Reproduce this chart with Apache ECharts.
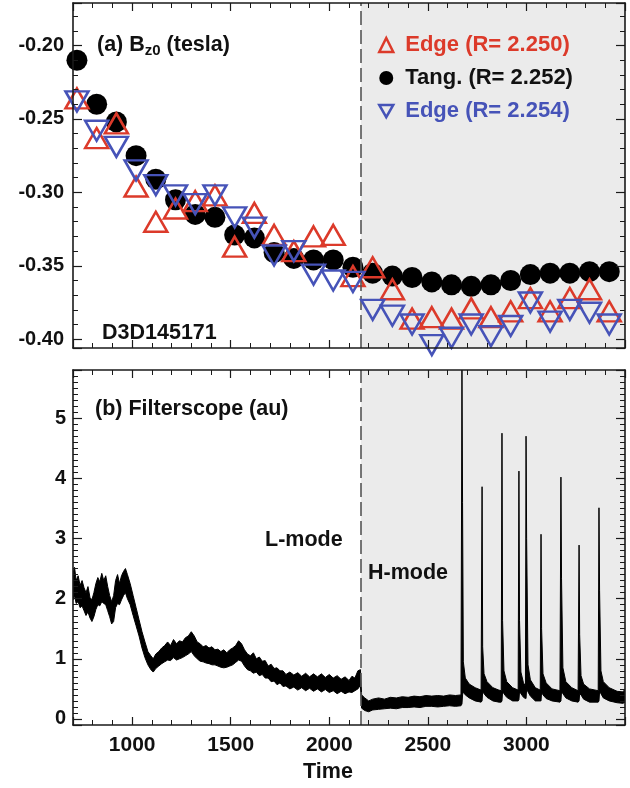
<!DOCTYPE html>
<html>
<head>
<meta charset="utf-8">
<script src="https://cdn.jsdelivr.net/npm/echarts@6/dist/echarts.min.js"></script>
<style>html,body{margin:0;padding:0;background:#fff}#c{width:630px;height:788px}</style>
</head>
<body>
<div id="c"></div>
<script>
// ---------- data ----------
const bzTime = [720, 820, 920, 1020, 1120, 1220, 1320, 1420, 1520, 1620, 1720, 1820, 1920, 2020,
                2120, 2220, 2320, 2420, 2520, 2620, 2720, 2820, 2920, 3020, 3120, 3220, 3320, 3420];
const bzTang = [-0.210, -0.240, -0.252, -0.275, -0.291, -0.305, -0.315, -0.317, -0.329, -0.331, -0.341, -0.345, -0.346, -0.346,
                -0.351, -0.355, -0.357, -0.358, -0.361, -0.363, -0.364, -0.363, -0.360, -0.356, -0.355, -0.355, -0.354, -0.354];
const bzEdge250 = [-0.236, -0.263, -0.253, -0.296, -0.320, -0.311, -0.306, -0.302, -0.337, -0.314, -0.329, -0.340, -0.330, -0.329,
                   -0.357, -0.351, -0.366, -0.386, -0.385, -0.386, -0.379, -0.385, -0.381, -0.372, -0.381, -0.372, -0.366, -0.381];
const bzEdge254 = [-0.238, -0.258, -0.269, -0.285, -0.295, -0.302, -0.308, -0.302, -0.317, -0.324, -0.343, -0.340, -0.356, -0.360,
                   -0.361, -0.380, -0.384, -0.390, -0.404, -0.399, -0.390, -0.398, -0.391, -0.375, -0.388, -0.380, -0.382, -0.390];

// Filterscope trace: upper / lower envelope of the noisy signal
const fsTime = [700,708,716,726,736,746,756,766,776,786,796,806,816,826,836,846,856,866,876,886,896,906,916,926,936,946,956,966,976,990,
  1005,1020,1035,1050,1065,1080,1095,1107,1120,1135,1150,1165,1180,1195,1210,1225,1240,1255,1270,1285,1300,1315,1330,1345,1360,1375,1390,1405,1420,1435,
  1450,1465,1480,1495,1510,1525,1540,1555,1570,1585,1600,1615,1630,1645,1660,1675,1690,1705,1720,1735,1750,1765,1780,1800,1820,1840,1860,1880,1900,1920,
  1940,1960,1980,2000,2020,2040,2060,2080,2100,2115,2130,2145,2158,2164,
  2180,2200,2220,2250,2280,2310,2340,2370,2400,2430,2460,2490,2520,2550,2580,2610,2640,2668,
  2673,2676,2680,2690,2710,2740,2770,
  2775,2778,2785,2800,2830,2860,2872,
  2876,2879,2886,2900,2930,2958,
  2962,2965,2972,2985,2995,
  2998,3001,3008,3020,3045,3070,
  3074,3077,3084,3100,3130,3170,
  3175,3178,3185,3200,3230,3262,
  3267,3270,3277,3290,3320,3364,
  3368,3371,3378,3390,3420,3460,3490,3500];
const fsUpper = [2.42,2.52,2.30,2.38,2.22,2.30,2.18,2.10,2.20,2.02,1.98,2.10,2.25,2.35,2.28,2.42,2.30,2.38,2.20,2.05,1.95,2.05,2.30,2.40,2.25,2.38,2.45,2.50,2.40,2.25,
  2.05,1.85,1.65,1.45,1.28,1.12,1.05,1.00,1.08,1.12,1.18,1.22,1.28,1.22,1.32,1.25,1.30,1.28,1.35,1.38,1.45,1.38,1.28,1.25,1.20,1.22,1.18,1.20,1.15,1.16,
  1.12,1.15,1.10,1.15,1.18,1.22,1.30,1.25,1.15,1.08,1.05,1.10,1.00,1.03,0.96,0.97,0.88,0.91,0.84,0.85,0.80,0.80,0.74,0.78,0.73,0.77,0.71,0.76,0.70,0.75,
  0.70,0.75,0.69,0.74,0.68,0.72,0.66,0.70,0.64,0.71,0.68,0.80,0.82,0.40,
  0.35,0.30,0.33,0.35,0.33,0.36,0.35,0.37,0.36,0.38,0.37,0.39,0.38,0.39,0.38,0.40,0.39,0.40,
  5.80,3.60,0.95,0.68,0.58,0.52,0.48,
  3.86,1.20,0.75,0.62,0.52,0.48,0.47,
  4.75,1.64,0.80,0.62,0.52,0.48,
  4.12,1.64,0.78,0.60,0.55,
  4.70,3.00,0.90,0.65,0.52,0.48,
  3.07,1.50,0.75,0.60,0.50,0.47,
  4.02,2.34,0.85,0.62,0.52,0.47,
  2.89,1.40,0.72,0.58,0.50,0.47,
  3.51,2.14,0.80,0.62,0.52,0.46,0.45,0.50];
const fsLower = [1.98,2.05,1.92,1.95,1.85,1.88,1.80,1.72,1.78,1.68,1.62,1.70,1.82,1.90,1.88,1.95,1.92,1.90,1.80,1.70,1.58,1.62,1.85,1.92,1.90,1.98,2.05,2.10,2.00,1.90,
  1.72,1.55,1.38,1.18,1.02,0.90,0.82,0.78,0.84,0.88,0.92,0.95,0.98,0.97,1.02,0.98,1.00,1.02,1.05,1.08,1.12,1.05,1.00,0.96,0.95,0.93,0.92,0.90,0.90,0.88,
  0.86,0.85,0.86,0.88,0.90,0.94,0.98,0.96,0.88,0.82,0.80,0.76,0.78,0.72,0.74,0.68,0.68,0.62,0.63,0.57,0.60,0.54,0.55,0.50,0.53,0.48,0.52,0.47,0.51,0.46,
  0.50,0.45,0.49,0.44,0.47,0.42,0.46,0.42,0.45,0.44,0.47,0.50,0.56,0.18,
  0.14,0.12,0.15,0.16,0.17,0.18,0.17,0.19,0.19,0.20,0.19,0.21,0.21,0.20,0.21,0.22,0.21,0.22,
  0.25,0.40,0.45,0.40,0.35,0.30,0.28,
  0.30,0.45,0.42,0.36,0.30,0.28,0.28,
  0.30,0.45,0.42,0.36,0.30,0.30,
  0.32,0.45,0.42,0.36,0.34,
  0.34,0.50,0.45,0.38,0.30,0.30,
  0.30,0.45,0.40,0.34,0.30,0.28,
  0.30,0.45,0.42,0.35,0.30,0.28,
  0.30,0.42,0.40,0.33,0.28,0.28,
  0.30,0.45,0.42,0.35,0.30,0.27,0.26,0.28];

const xTickLabels = [1000, 1500, 2000, 2500, 3000];
const bzTickLabels = [-0.40, -0.35, -0.30, -0.25, -0.20];
const fsTickLabels = [0, 1, 2, 3, 4, 5];
const lhTransition = 2160;   // L-H transition time
const timeRange = [700, 3500];
const bzRange = [-0.406, -0.171];
const fsRange = [-0.1, 5.8];

// ---------- styles ----------
const FONT = "'Liberation Sans', Arial, Helvetica, sans-serif";
const RED = '#dc3a2a';
const BLUE = '#4653b8';
const INK = '#111';
const FRAME = '#1a1a1a';
const SHADE = '#ebebeb';
const DOWN_TRIANGLE_ICON = 'path://M0,0L16,0L8,14Z';

const chart = echarts.init(document.getElementById('c'), null, {renderer: 'canvas'});

function mkAxis(kind, grid, pos, range, split, minorSplit, label) {
  const a = {
    type: 'value', gridIndex: grid, position: pos, min: range[0], max: range[1],
    splitNumber: split, z: 10,
    axisLine: {show: true, onZero: false, lineStyle: {color: FRAME, width: 1.6}},
    axisTick: {show: true, inside: true, length: kind === 'x' ? 8 : 9, lineStyle: {color: FRAME, width: 1.2}},
    minorTick: {show: true, splitNumber: minorSplit, length: 5, lineStyle: {color: FRAME, width: 1}},
    splitLine: {show: false}, minorSplitLine: {show: false},
    axisLabel: {show: false}
  };
  if (label) a.axisLabel = label;
  return a;
}
function pick(list, digits) {
  return function (v) {
    const m = list.find(t => Math.abs(t - v) < 1e-6);
    return m === undefined ? '' : (digits ? m.toFixed(digits) : String(m));
  };
}
const labelBase = {show: true, color: INK, fontFamily: FONT, fontWeight: 'bold'};

const option = {
  animation: false,
  backgroundColor: '#fff',
  grid: [
    {left: 73, top: 3, width: 552, height: 345, outerBoundsMode: 'none'},
    {left: 73, top: 370, width: 552, height: 355, outerBoundsMode: 'none'}
  ],
  xAxis: [
    mkAxis('x', 0, 'bottom', timeRange, 5, 5),
    mkAxis('x', 0, 'top', timeRange, 5, 5),
    mkAxis('x', 1, 'bottom', timeRange, 5, 5,
      Object.assign({}, labelBase, {fontSize: 21, margin: 10, formatter: pick(xTickLabels, 0)})),
    mkAxis('x', 1, 'top', timeRange, 5, 5)
  ],
  yAxis: [
    mkAxis('y', 0, 'left', bzRange, 5, 5,
      Object.assign({}, labelBase, {fontSize: 20, margin: 9, formatter: pick(bzTickLabels, 2)})),
    mkAxis('y', 0, 'right', bzRange, 5, 5),
    mkAxis('y', 1, 'left', fsRange, 5, 10,
      Object.assign({}, labelBase, {fontSize: 20, margin: 7, formatter: pick(fsTickLabels, 0)})),
    mkAxis('y', 1, 'right', fsRange, 5, 10)
  ],
  legend: {
    left: 373, top: 29, orient: 'vertical', itemWidth: 14, itemHeight: 14, itemGap: 11,
    selectedMode: false,
    textStyle: {fontSize: 22, fontWeight: 'bold', fontFamily: FONT, padding: [0, 0, 0, 7]},
    data: [
      {name: 'Edge (R= 2.250)', textStyle: {color: RED}, itemStyle: {color: 'transparent', borderColor: RED, borderWidth: 2.5, opacity: 1}},
      {name: 'Tang. (R= 2.252)', textStyle: {color: INK}, itemStyle: {color: '#000', borderWidth: 0, opacity: 1}},
      {name: 'Edge (R= 2.254)', icon: DOWN_TRIANGLE_ICON, textStyle: {color: BLUE},
       itemStyle: {color: 'transparent', borderColor: BLUE, borderWidth: 2.5, opacity: 1}}
    ]
  },
  graphic: [
    {type: 'text', x: 97, y: 45, z: 20, style: {
      text: '{a|(a) B}{s|z0}{a| (tesla)}', verticalAlign: 'middle', fill: INK,
      rich: {a: {fontSize: 21.5, fontWeight: 'bold', fontFamily: FONT, fill: INK, lineHeight: 26},
             s: {fontSize: 15, fontWeight: 'bold', fontFamily: FONT, fill: INK, lineHeight: 26, padding: [12, 0, 0, 0]}}}},
    {type: 'text', x: 102, y: 333, z: 20, style: {text: 'D3D145171', verticalAlign: 'middle', fill: INK, font: "bold 21.5px " + FONT}},
    {type: 'text', x: 95, y: 409, z: 20, style: {text: '(b) Filterscope (au)', verticalAlign: 'middle', fill: INK, font: "bold 21.5px " + FONT}},
    {type: 'text', x: 265, y: 540, z: 20, style: {text: 'L-mode', verticalAlign: 'middle', fill: INK, font: "bold 21.5px " + FONT}},
    {type: 'text', x: 368, y: 573, z: 20, style: {text: 'H-mode', verticalAlign: 'middle', fill: INK, font: "bold 21.5px " + FONT}},
    {type: 'text', x: 328, y: 772, z: 20, style: {text: 'Time', align: 'center', verticalAlign: 'middle', fill: INK, font: "bold 21.5px " + FONT}}
  ],
  series: [
    // shading + transition line, panel (a)
    {type: 'line', xAxisIndex: 0, yAxisIndex: 0, data: [], z: 1, silent: true,
     markArea: {silent: true, itemStyle: {color: SHADE, opacity: 1}, data: [[{xAxis: lhTransition}, {xAxis: timeRange[1]}]]},
     markLine: {silent: true, symbol: 'none', label: {show: false}, lineStyle: {color: '#555', width: 1.6, type: [14, 5], opacity: 1},
                data: [{xAxis: lhTransition}]}},
    // shading + transition line, panel (b)
    {type: 'line', xAxisIndex: 2, yAxisIndex: 2, data: [], z: 1, silent: true,
     markArea: {silent: true, itemStyle: {color: SHADE, opacity: 1}, data: [[{xAxis: lhTransition}, {xAxis: timeRange[1]}]]},
     markLine: {silent: true, symbol: 'none', label: {show: false}, lineStyle: {color: '#555', width: 1.6, type: [14, 5], opacity: 1},
                data: [{xAxis: lhTransition}]}},
    {name: 'Tang. (R= 2.252)', type: 'scatter', xAxisIndex: 0, yAxisIndex: 0, z: 3, silent: true,
     symbol: 'circle', symbolSize: 21, itemStyle: {color: '#000', opacity: 1},
     data: bzTime.map((t, i) => [t, bzTang[i]])},
    {name: 'Edge (R= 2.250)', type: 'scatter', xAxisIndex: 0, yAxisIndex: 0, z: 4, silent: true,
     symbol: 'triangle', symbolSize: [23, 20], itemStyle: {color: 'transparent', borderColor: RED, borderWidth: 2.5, opacity: 1},
     data: bzTime.map((t, i) => [t, bzEdge250[i]])},
    {name: 'Edge (R= 2.254)', type: 'scatter', xAxisIndex: 0, yAxisIndex: 0, z: 5, silent: true,
     symbol: 'triangle', symbolRotate: 180, symbolSize: [23, 20], itemStyle: {color: 'transparent', borderColor: BLUE, borderWidth: 2.5, opacity: 1},
     data: bzTime.map((t, i) => [t, bzEdge254[i]])},
    // filterscope band between the lower and upper envelopes
    {name: 'Filterscope', type: 'custom', coordinateSystem: 'cartesian2d', xAxisIndex: 2, yAxisIndex: 2, z: 3,
     silent: true, clip: true,
     data: [[fsTime[0], fsLower[0]]],
     renderItem: function (params, api) {
       const pts = [];
       for (let i = 0; i < fsTime.length; i++) pts.push(api.coord([fsTime[i], fsUpper[i]]));
       for (let i = fsTime.length - 1; i >= 0; i--) pts.push(api.coord([fsTime[i], fsLower[i]]));
       return {type: 'polygon', shape: {points: pts}, style: {fill: '#000', stroke: '#000', lineWidth: 1}};
     }}
  ]
};
chart.setOption(option);
</script>
</body>
</html>
